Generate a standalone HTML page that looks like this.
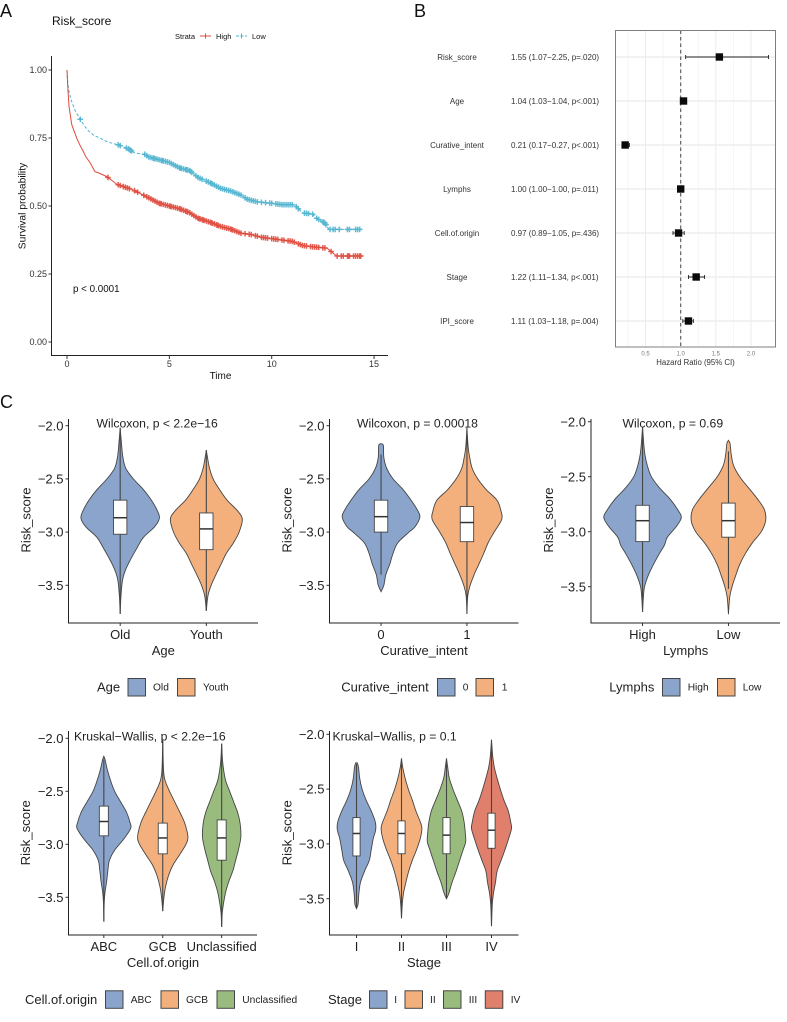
<!DOCTYPE html>
<html lang="en">
<head>
<meta charset="utf-8">
<title>Risk score figure</title>
<style>
html,body{margin:0;padding:0;background:#fff;width:787px;height:1022px;overflow:hidden}
svg{display:block;filter:blur(0.35px)}
text{font-family:"Liberation Sans",sans-serif}
</style>
</head>
<body>
<svg id="figure" xmlns="http://www.w3.org/2000/svg" width="787" height="1022" viewBox="0 0 787 1022"></svg>
<script>
// ---------- Panel A: survival data ----------
const kmTimeTicks = [0, 5, 10, 15];
const kmProbTicks = [0, 0.25, 0.5, 0.75, 1];
const kmProbLabels = ['0.00', '0.25', '0.50', '0.75', '1.00'];
const highTimes = [0,0.03,0.06,0.1,0.15,0.23,0.3,0.4,0.5,0.63,0.8,0.93,1.12,1.37,1.6,1.94,2.0,2.43,2.8,3.2,3.6,4.0,4.5,5.0,5.5,6.0,6.4,7.0,7.5,8.0,8.5,9.0,9.5,10.0,10.5,11.0,11.5,12.0,12.7,13.17,14.4];
const highSurv = [1,0.95,0.91,0.865,0.84,0.80,0.785,0.765,0.745,0.724,0.70,0.68,0.66,0.626,0.62,0.608,0.605,0.58,0.57,0.56,0.545,0.53,0.51,0.50,0.49,0.475,0.455,0.44,0.425,0.415,0.40,0.395,0.385,0.38,0.375,0.37,0.355,0.35,0.345,0.316,0.316];
const lowTimes = [0,0.03,0.06,0.1,0.2,0.4,0.6,0.8,1.0,1.3,1.6,2.0,2.5,3.0,3.3,3.8,4.0,4.5,5.0,5.5,6.0,6.4,7.0,7.5,8.0,8.5,8.8,9.3,10.0,10.5,11.1,11.3,11.5,12.0,12.2,12.6,12.8,14.4];
const lowSurv = [1,0.96,0.94,0.92,0.89,0.85,0.825,0.80,0.78,0.76,0.75,0.735,0.725,0.71,0.695,0.69,0.68,0.67,0.66,0.64,0.63,0.605,0.585,0.565,0.555,0.54,0.525,0.515,0.51,0.505,0.505,0.49,0.475,0.47,0.455,0.437,0.414,0.414];
const highCensor = [2.0,2.5,2.6,2.75,2.85,2.95,3.05,3.3,3.45,3.75,3.9,4.0,4.1,4.2,4.3,4.4,4.5,4.55,4.6,4.7,4.8,4.9,5.0,5.05,5.1,5.2,5.3,5.4,5.5,5.55,5.6,5.7,5.8,5.85,5.9,6.0,6.1,6.2,6.3,6.4,6.45,6.5,6.6,6.65,6.7,6.8,6.9,7.0,7.05,7.1,7.2,7.3,7.35,7.4,7.5,7.6,7.7,7.8,7.9,8.0,8.05,8.1,8.2,8.3,8.4,8.5,8.7,8.9,9.0,9.2,9.3,9.5,9.6,9.7,9.8,10.0,10.1,10.2,10.3,10.5,10.6,10.8,10.9,11.0,11.1,11.3,11.4,11.5,11.6,11.7,11.9,12.0,12.1,12.2,12.3,12.5,12.6,12.9,13.2,13.4,13.5,13.7,13.75,13.8,14.0,14.1,14.2,14.3,14.35];
const lowCensor = [0.65,2.5,2.6,2.9,3.0,3.05,3.1,3.15,3.8,3.9,4.0,4.1,4.2,4.25,4.3,4.4,4.5,4.6,4.65,4.7,4.8,4.9,5.0,5.1,5.2,5.3,5.4,5.5,5.55,5.6,5.7,5.8,5.85,5.9,6.0,6.05,6.1,6.3,6.4,6.5,6.6,6.8,6.9,7.0,7.05,7.1,7.2,7.3,7.4,7.5,7.6,7.7,7.8,7.9,8.0,8.1,8.2,8.3,8.4,8.5,8.7,8.8,8.9,9.0,9.1,9.2,9.3,9.5,9.7,9.9,10.0,10.2,10.3,10.4,10.5,10.6,10.7,10.8,10.9,11.0,11.2,11.3,11.6,11.7,11.8,12.0,12.2,12.3,12.5,12.55,12.6,12.65,12.85,13.0,13.1,13.3,13.7,13.8,14.1,14.2,14.3];

// ---------- Panel B: forest data ----------
const forestNames = ['Risk_score','Age','Curative_intent','Lymphs','Cell.of.origin','Stage','IPI_score'];
const forestSummary = ['1.55 (1.07\u22122.25, p=.020)','1.04 (1.03\u22121.04, p<.001)','0.21 (0.17\u22120.27, p<.001)','1.00 (1.00\u22121.00, p=.011)','0.97 (0.89\u22121.05, p=.436)','1.22 (1.11\u22121.34, p<.001)','1.11 (1.03\u22121.18, p=.004)'];
const forestHR = [1.55,1.04,0.21,1.00,0.97,1.22,1.11];
const forestLow = [1.07,1.03,0.17,1.00,0.89,1.11,1.03];
const forestHigh = [2.25,1.04,0.27,1.00,1.05,1.34,1.18];
const forestTicks = [0.5,1.0,1.5,2.0];
const forestMinorTicks = [0.25,0.75,1.25,1.75];

// ---------- Panel C: violin data ----------
const scoreTicks = [-2,-2.5,-3,-3.5];
const scoreTickLabels = ['\u22122.0','\u22122.5','\u22123.0','\u22123.5'];

const ageCats = ['Old','Youth'];
const ageOldScores = [-2.02,-2.2,-2.3,-2.4,-2.5,-2.6,-2.7,-2.8,-2.87,-2.95,-3.05,-3.15,-3.25,-3.35,-3.45,-3.6,-3.77];
const ageOldDensity = [0,.04,.07,.14,.33,.58,.78,.93,.98,.86,.58,.42,.27,.14,.06,.02,0];
const ageOldBox = [-3.77,-3.02,-2.865,-2.70,-2.02];
const ageYouthScores = [-2.23,-2.3,-2.4,-2.5,-2.6,-2.7,-2.8,-2.88,-3.0,-3.1,-3.2,-3.3,-3.4,-3.5,-3.6,-3.74];
const ageYouthDensity = [0,.03,.08,.17,.33,.52,.78,.9,.82,.68,.5,.37,.24,.12,.04,0];
const ageYouthBox = [-3.74,-3.165,-2.97,-2.82,-2.23];

const curativeCats = ['0','1'];
const cur0Scores = [-2.17,-2.19,-2.3,-2.4,-2.5,-2.6,-2.7,-2.8,-2.86,-2.95,-3.0,-3.1,-3.2,-3.3,-3.4,-3.5,-3.56];
const cur0Density = [.02,.06,.07,.14,.3,.55,.75,.92,.97,.85,.7,.42,.3,.22,.12,.07,0];
const cur0Box = [-3.4,-3.0,-2.855,-2.70,-2.27];
const cur1Scores = [-2.02,-2.2,-2.3,-2.4,-2.5,-2.6,-2.7,-2.8,-2.88,-3.0,-3.1,-3.2,-3.3,-3.4,-3.5,-3.6,-3.77];
const cur1Density = [0,.03,.07,.13,.27,.48,.75,.85,.87,.68,.53,.42,.3,.18,.08,.02,0];
const cur1Box = [-3.77,-3.09,-2.91,-2.76,-2.02];

const lymphCats = ['High','Low'];
const lymHighScores = [-2.05,-2.2,-2.3,-2.4,-2.5,-2.6,-2.7,-2.8,-2.87,-2.95,-3.05,-3.12,-3.2,-3.3,-3.4,-3.5,-3.6,-3.73];
const lymHighDensity = [0,.03,.06,.12,.22,.42,.68,.88,.97,.85,.62,.55,.42,.27,.14,.05,.02,0];
const lymHighBox = [-3.73,-3.09,-2.90,-2.76,-2.05];
const lymLowScores = [-2.17,-2.2,-2.3,-2.4,-2.5,-2.6,-2.7,-2.8,-2.9,-3.0,-3.1,-3.2,-3.3,-3.4,-3.5,-3.6,-3.75];
const lymLowDensity = [0,.04,.07,.13,.28,.5,.72,.9,.93,.82,.6,.42,.28,.18,.09,.03,0];
const lymLowBox = [-3.52,-3.05,-2.90,-2.74,-2.27];

const originCats = ['ABC','GCB','Unclassified'];
const abcScores = [-2.17,-2.2,-2.3,-2.4,-2.5,-2.6,-2.7,-2.8,-2.85,-2.95,-3.05,-3.15,-3.25,-3.35,-3.45,-3.55,-3.73];
const abcDensity = [0,.03,.09,.17,.27,.42,.57,.66,.67,.5,.28,.14,.1,.07,.03,.01,0];
const abcBox = [-3.73,-2.92,-2.785,-2.64,-2.2];
const gcbScores = [-2.02,-2.3,-2.4,-2.5,-2.6,-2.7,-2.8,-2.93,-3.0,-3.1,-3.2,-3.3,-3.4,-3.5,-3.63];
const gcbDensity = [0,.02,.06,.17,.3,.43,.55,.63,.58,.42,.25,.14,.07,.03,0];
const gcbBox = [-3.63,-3.09,-2.94,-2.80,-2.02];
const unclScores = [-2.05,-2.2,-2.3,-2.4,-2.5,-2.6,-2.7,-2.8,-2.93,-3.05,-3.15,-3.25,-3.35,-3.45,-3.55,-3.65,-3.78];
const unclDensity = [0,.02,.05,.1,.2,.3,.4,.46,.48,.42,.35,.28,.18,.1,.05,.015,0];
const unclBox = [-3.78,-3.15,-2.94,-2.77,-2.05];

const stageCats = ['I','II','III','IV'];
const stage1Scores = [-2.26,-2.3,-2.4,-2.5,-2.6,-2.7,-2.8,-2.87,-2.95,-3.05,-3.15,-3.25,-3.35,-3.45,-3.55,-3.59];
const stage1Density = [.02,.05,.08,.14,.24,.37,.47,.48,.42,.37,.32,.2,.1,.06,.04,0];
const stage1Box = [-3.59,-3.11,-2.905,-2.76,-2.27];
const stage2Scores = [-2.22,-2.3,-2.4,-2.5,-2.6,-2.7,-2.8,-2.86,-2.95,-3.05,-3.15,-3.25,-3.35,-3.45,-3.55,-3.68];
const stage2Density = [0,.03,.09,.17,.27,.36,.47,.51,.47,.38,.27,.18,.11,.05,.02,0];
const stage2Box = [-3.68,-3.09,-2.905,-2.79,-2.22];
const stage3Scores = [-2.22,-2.3,-2.4,-2.5,-2.6,-2.7,-2.8,-2.9,-2.98,-3.05,-3.15,-3.25,-3.35,-3.45,-3.5];
const stage3Density = [0,.03,.07,.16,.27,.38,.44,.47,.48,.42,.33,.24,.14,.06,0];
const stage3Box = [-3.5,-3.09,-2.92,-2.76,-2.22];
const stage4Scores = [-2.05,-2.2,-2.3,-2.4,-2.5,-2.6,-2.7,-2.8,-2.86,-2.95,-3.05,-3.15,-3.25,-3.35,-3.45,-3.55,-3.75];
const stage4Density = [0,.03,.07,.14,.22,.31,.42,.48,.5,.43,.34,.24,.14,.1,.05,.02,0];
const stage4Box = [-3.75,-3.04,-2.875,-2.72,-2.05];

const fillBlue = '#8aa4cb';
const fillOrange = '#f4b07c';
const fillGreen = '#99bb7e';
const fillRed = '#df7f6c';

// ---------- Helpers ----------
const NS = 'http://www.w3.org/2000/svg';
const root = document.getElementById('figure');
function mk(parent, tag, attrs, txt) {
  const node = document.createElementNS(NS, tag);
  for (const k in attrs) node.setAttribute(k, attrs[k]);
  if (txt !== undefined) node.textContent = txt;
  parent.appendChild(node);
  return node;
}
function label(parent, x, y, txt, size, name, anchor, fill, rotate) {
  const attrs = {x: x, y: y, 'font-size': size, fill: fill || '#111', 'text-anchor': anchor || 'start'};
  if (rotate) attrs.transform = 'rotate(-90 ' + x + ' ' + y + ')';
  const t = mk(parent, 'text', attrs, txt);
  
  
  return t;
}
function seg(parent, x1, y1, x2, y2, stroke, w, name) {
  const l = mk(parent, 'line', {x1: x1, y1: y1, x2: x2, y2: y2, stroke: stroke, 'stroke-width': w});
  
  
  return l;
}
function slug(s) { return String(s).toLowerCase().replace(/[^a-z0-9]+/g, '-'); }

// ---------- Panel letters ----------
label(root, 0, 17, 'A', 18, 'panel-a-label');
label(root, 414, 17, 'B', 18, 'panel-b-label');
label(root, 0, 408, 'C', 18, 'panel-c-label');

// ---------- Panel A ----------
(function () {
  const g = mk(root, 'g', {});
  
  
  const xT = t => 67 + t * 20.47;
  const yS = s => 342 - s * 272;
  const surv = (times, vals, t) => {
    for (let i = times.length - 1; i > 0; i--) {
      if (t >= times[i - 1]) {
        const f = (t - times[i - 1]) / (times[i] - times[i - 1]);
        return vals[i - 1] + (vals[i] - vals[i - 1]) * Math.min(f, 1);
      }
    }
    return vals[0];
  };
  label(g, 52, 25, 'Risk_score', 12, 'survival-title');
  label(g, 175, 39, 'Strata', 7.5, 'strata-legend-title');
  seg(g, 200, 36, 211, 36, '#df4a3c', 1, 'legend-high-line');
  seg(g, 205.5, 33.5, 205.5, 38.5, '#df4a3c', 1, 'legend-high-mark');
  label(g, 216, 39, 'High', 7.5, 'legend-high-label');
  const lk = seg(g, 236, 36, 247, 36, '#4db3cf', 1, 'legend-low-line');
  lk.setAttribute('stroke-dasharray', '3 1.5');
  seg(g, 241.5, 33.5, 241.5, 38.5, '#4db3cf', 1, 'legend-low-mark');
  label(g, 252, 39, 'Low', 7.5, 'legend-low-label');

  seg(g, 51.5, 56, 51.5, 356, '#222', 1, 'survival-y-axis');
  seg(g, 51, 355.5, 388, 355.5, '#222', 1, 'survival-x-axis');
  kmTimeTicks.forEach(t => {
    seg(g, xT(t), 356, xT(t), 359, '#333', 1, 'time-tick-' + t);
    label(g, xT(t), 366.8, String(t), 9, 'time-tick-label-' + t, 'middle', '#333');
  });
  kmProbTicks.forEach((p, i) => {
    seg(g, 48.5, yS(p), 51.5, yS(p), '#333', 1, 'prob-tick-' + kmProbLabels[i]);
    label(g, 47, yS(p) + 3.2, kmProbLabels[i], 9, 'prob-tick-label-' + kmProbLabels[i], 'end', '#333');
  });
  label(g, 220.5, 379, 'Time', 10, 'time-axis-title', 'middle');
  label(g, 25.5, 206, 'Survival probability', 10.3, 'survival-axis-title', 'middle', '#111', true);
  label(g, 73, 292, 'p < 0.0001', 9.8, 'log-rank-p-value');

  function curve(times, vals, censor, color, name, dash) {
    const d = times.map((t, i) => (i ? 'L' : 'M') + xT(t).toFixed(2) + ' ' + yS(vals[i]).toFixed(2)).join(' ');
    const p = mk(g, 'path', {d: d, fill: 'none', stroke: color, 'stroke-width': 1});
    if (dash) p.setAttribute('stroke-dasharray', dash);
    
    
    const cg = mk(g, 'g', {stroke: color, 'stroke-width': 1.5, opacity: 0.9});
    
    
    censor.forEach(t => {
      const cx = xT(t), cy = yS(surv(times, vals, t));
      const m = mk(cg, 'path', {d: 'M' + (cx - 2.8).toFixed(2) + ' ' + cy.toFixed(2) + 'h5.6M' + cx.toFixed(2) + ' ' + (cy - 2.8).toFixed(2) + 'v5.6', fill: 'none'});
      
      
    });
  }
  curve(lowTimes, lowSurv, lowCensor, '#4db3cf', 'low', '3 2');
  curve(highTimes, highSurv, highCensor, '#df4a3c', 'high', null);
})();

// ---------- Panel B ----------
(function () {
  const g = mk(root, 'g', {});
  
  
  const left = 615.5, right = 775.5, top = 30.5, bottom = 347;
  const xH = v => 680.7 + (v - 1) * 70.3;
  const yRow = i => 57 + i * 44;
  forestMinorTicks.forEach(v => seg(g, xH(v), top, xH(v), bottom, '#f2f2f2', 0.7, 'forest-minor-grid-' + v));
  forestTicks.forEach(v => seg(g, xH(v), top, xH(v), bottom, '#ebebeb', 1, 'forest-major-grid-' + v));
  forestNames.forEach((n, i) => {
    seg(g, left, yRow(i), right, yRow(i), '#ebebeb', 1.2, 'forest-row-grid-' + slug(n));
  });
  const d = seg(g, xH(1), top, xH(1), bottom, '#555', 1.1, 'reference-line-hr-1');
  d.setAttribute('stroke-dasharray', '3.5 3');
  const frame = mk(g, 'rect', {x: left, y: top, width: right - left, height: bottom - top, fill: 'none', stroke: '#7f7f7f', 'stroke-width': 1});
  
  
  forestNames.forEach((n, i) => {
    const y = yRow(i), s = slug(n);
    label(g, 457, y + 2.8, n, 8, 'forest-name-' + s, 'middle', '#333');
    label(g, 511, y + 2.8, forestSummary[i], 8, 'forest-summary-' + s, 'start', '#333');
    seg(g, xH(forestLow[i]), y, xH(forestHigh[i]), y, '#222', 0.9, 'ci-line-' + s);
    seg(g, xH(forestLow[i]), y - 2, xH(forestLow[i]), y + 2, '#222', 0.9, 'ci-low-cap-' + s);
    seg(g, xH(forestHigh[i]), y - 2, xH(forestHigh[i]), y + 2, '#222', 0.9, 'ci-high-cap-' + s);
    const r = mk(g, 'rect', {x: xH(forestHR[i]) - 3.7, y: y - 3.7, width: 7.4, height: 7.4, fill: '#0a0a0a'});
    
    
  });
  forestTicks.forEach(v => {
    label(g, xH(v), 355.6, v.toFixed(1), 6, 'forest-tick-label-' + v, 'middle', '#777');
  });
  label(g, 695.5, 365, 'Hazard Ratio (95% CI)', 7.8, 'forest-axis-title', 'middle', '#333');
})();

// ---------- Panel C ----------
function smoothSide(pts) {
  // Catmull-Rom through points, returned as bezier commands (without initial move)
  let out = '';
  for (let i = 0; i < pts.length - 1; i++) {
    const p0 = pts[Math.max(i - 1, 0)], p1 = pts[i], p2 = pts[i + 1], p3 = pts[Math.min(i + 2, pts.length - 1)];
    const c1 = [p1[0] + (p2[0] - p0[0]) / 6, p1[1] + (p2[1] - p0[1]) / 6];
    const c2 = [p2[0] - (p3[0] - p1[0]) / 6, p2[1] - (p3[1] - p1[1]) / 6];
    out += 'C' + c1[0].toFixed(2) + ' ' + c1[1].toFixed(2) + ' ' + c2[0].toFixed(2) + ' ' + c2[1].toFixed(2) + ' ' + p2[0].toFixed(2) + ' ' + p2[1].toFixed(2);
  }
  return out;
}
function violinPanel(o) {
  const g = mk(root, 'g', {});
  
  
  const yV = v => o.y2 + (-2 - v) * o.k;
  const n = o.cats.length;
  const xC = i => o.left + (i + 0.6) / (n - 1 + 1.2) * (o.right - o.left);
  const bw = o.boxHalf;
  o.violins.forEach((v, i) => {
    const scores = v[0], dens = v[1], box = v[2], cx = xC(i), s = slug(o.cats[i]);
    const vg = mk(g, 'g', {});
    
    
    const rightPts = scores.map((sc, j) => [cx + dens[j] * 40, yV(sc)]);
    const leftPts = scores.map((sc, j) => [cx - dens[j] * 40, yV(sc)]).reverse();
    const dPath = 'M' + rightPts[0][0].toFixed(2) + ' ' + rightPts[0][1].toFixed(2) + smoothSide(rightPts) +
      'L' + leftPts[0][0].toFixed(2) + ' ' + leftPts[0][1].toFixed(2) + smoothSide(leftPts) + 'Z';
    const p = mk(vg, 'path', {d: dPath, fill: o.fills[i], stroke: '#454545', 'stroke-width': 0.9});
    
    
    seg(vg, cx, yV(box[4]), cx, yV(box[0]), '#454545', 1.1, o.id + '-whisker-' + s);
    const r = mk(vg, 'rect', {x: cx - bw, y: yV(box[3]), width: bw * 2, height: yV(box[1]) - yV(box[3]), fill: '#fff', stroke: '#454545', 'stroke-width': 0.9});
    
    
    seg(vg, cx - bw, yV(box[2]), cx + bw, yV(box[2]), '#333', 1.5, o.id + '-median-' + s);
    seg(g, cx, o.bottom, cx, o.bottom + 3, '#333', 1, o.id + '-x-tick-' + s);
    label(g, cx, o.bottom + 16, o.cats[i], 13, o.id + '-x-tick-label-' + s, 'middle', '#222');
  });
  seg(g, o.left, o.top, o.left, o.bottom + 0.5, '#222', 1, o.id + '-y-axis');
  seg(g, o.left - 0.5, o.bottom, o.right, o.bottom, '#222', 1, o.id + '-x-axis');
  scoreTicks.forEach((t, i) => {
    seg(g, o.left - 3, yV(t), o.left, yV(t), '#333', 1, o.id + '-y-tick-' + i);
    label(g, o.left - 5, yV(t) + 4.6, scoreTickLabels[i], 13, o.id + '-y-tick-label-' + i, 'end', '#222');
  });
  label(g, o.axisTitleX, o.axisTitleY, 'Risk_score', 13.2, o.id + '-y-axis-title', 'middle', '#222', true);
  label(g, o.xTitleX, o.bottom + 32, o.title, 13, o.id + '-x-axis-title', 'middle', '#222');
  label(g, o.statX, o.statY, o.stat, 12.2, o.id + '-stat-label', 'start', '#222');
  // legend
  label(g, o.legendTitleX, o.legendY + 4.6, o.title, 13, o.id + '-legend-title', 'start', '#222');
  o.legendKeys.forEach((kx, i) => {
    const s = slug(o.cats[i]);
    const r = mk(g, 'rect', {x: kx, y: o.legendY - 8.5, width: 17.5, height: 17.5, fill: o.fills[i], stroke: '#454545', 'stroke-width': 1});
    
    
    label(g, o.legendLabels[i], o.legendY + 3.6, o.cats[i], 10.2, o.id + '-legend-label-' + s, 'start', '#222');
  });
}

violinPanel({id:'age', title:'Age', cats:ageCats, left:68.5, right:258, top:419, bottom:623, y2:425.7, k:106.4, boxHalf:6.7,
  fills:[fillBlue,fillOrange], violins:[[ageOldScores,ageOldDensity,ageOldBox],[ageYouthScores,ageYouthDensity,ageYouthBox]],
  axisTitleX:30.5, axisTitleY:520, xTitleX:163.3, stat:'Wilcoxon, p < 2.2e\u221216', statX:96.5, statY:427.5,
  legendTitleX:97, legendY:687, legendKeys:[128,177.5], legendLabels:[153,203]});

violinPanel({id:'curative', title:'Curative_intent', cats:curativeCats, left:329.5, right:518.5, top:419, bottom:623, y2:425.7, k:106.4, boxHalf:6.7,
  fills:[fillBlue,fillOrange], violins:[[cur0Scores,cur0Density,cur0Box],[cur1Scores,cur1Density,cur1Box]],
  axisTitleX:291.5, axisTitleY:520, xTitleX:424, stat:'Wilcoxon, p = 0.00018', statX:357, statY:427.5,
  legendTitleX:341.3, legendY:687, legendKeys:[437.5,476], legendLabels:[462.7,501.7]});

violinPanel({id:'lymphs', title:'Lymphs', cats:lymphCats, left:591, right:780, top:419, bottom:623, y2:421.7, k:110, boxHalf:6.7,
  fills:[fillBlue,fillOrange], violins:[[lymHighScores,lymHighDensity,lymHighBox],[lymLowScores,lymLowDensity,lymLowBox]],
  axisTitleX:553, axisTitleY:520, xTitleX:685.7, stat:'Wilcoxon, p = 0.69', statX:622.5, statY:427.5,
  legendTitleX:609.3, legendY:687, legendKeys:[662.5,717.5], legendLabels:[687.7,742.7]});

violinPanel({id:'origin', title:'Cell.of.origin', cats:originCats, left:68.5, right:257, top:731, bottom:935, y2:738.3, k:106, boxHalf:4.5,
  fills:[fillBlue,fillOrange,fillGreen], violins:[[abcScores,abcDensity,abcBox],[gcbScores,gcbDensity,gcbBox],[unclScores,unclDensity,unclBox]],
  axisTitleX:30, axisTitleY:832.8, xTitleX:163, stat:'Kruskal\u2212Wallis, p < 2.2e\u221216', statX:74, statY:740.5,
  legendTitleX:25, legendY:999.3, legendKeys:[105.5,161,217], legendLabels:[130.7,186,242.3]});

violinPanel({id:'stage', title:'Stage', cats:stageCats, left:329.5, right:518.5, top:731, bottom:935, y2:734.3, k:109.6, boxHalf:3.6,
  fills:[fillBlue,fillOrange,fillGreen,fillRed], violins:[[stage1Scores,stage1Density,stage1Box],[stage2Scores,stage2Density,stage2Box],[stage3Scores,stage3Density,stage3Box],[stage4Scores,stage4Density,stage4Box]],
  axisTitleX:291.5, axisTitleY:832.8, xTitleX:424, stat:'Kruskal\u2212Wallis, p = 0.1', statX:332.5, statY:740.5,
  legendTitleX:328, legendY:999.3, legendKeys:[369.5,405,443.5,485.3], legendLabels:[394.3,430,468.7,510.7]});
</script>
</body>
</html>
